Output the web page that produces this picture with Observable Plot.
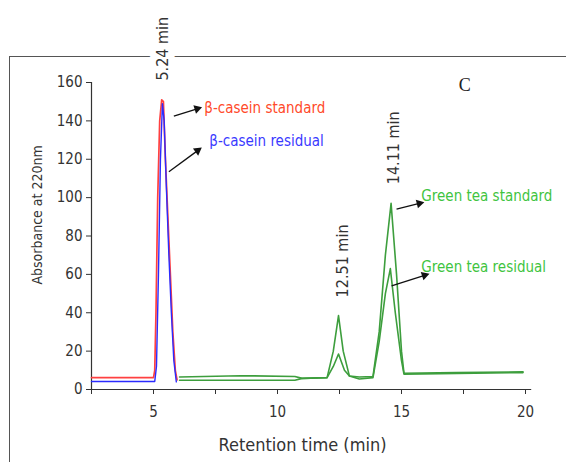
<!DOCTYPE html>
<html>
<head>
<meta charset="utf-8">
<script src="https://cdn.jsdelivr.net/npm/d3@7"></script>
<script src="https://cdn.jsdelivr.net/npm/@observablehq/plot@0.6"></script>
<style>
  html, body { margin: 0; padding: 0; background: #fff; overflow: hidden; }
  #wrap { position: relative; width: 566px; height: 462px; }
  #frame { position: absolute; left: 9px; top: 56px; width: 640px; height: 460px;
           border-left: 1.5px solid #555; border-top: 1.5px solid #555; }
  #chart { position: absolute; left: 0; top: 0; }
  #chart svg { background: transparent !important; }
</style>
</head>
<body>
<div id="wrap"><div id="frame"></div><div id="chart"></div></div>
<script>
// ---- data ----
const caseinStdTime = [2.5, 5.0, 5.05, 5.1, 5.17, 5.25, 5.33, 5.4, 5.48, 5.58, 5.68, 5.78, 5.88, 5.95];
const caseinStdAbs  = [6.2, 6.2, 10, 40, 100, 140, 151, 150, 120, 90, 60, 30, 10, 5];

const caseinResTime = [2.5, 5.05, 5.12, 5.2, 5.28, 5.36, 5.43, 5.52, 5.62, 5.72, 5.82, 5.92];
const caseinResAbs  = [4.2, 4.2, 12, 60, 120, 149, 140, 105, 70, 40, 15, 4];

const teaStdTime = [6.05, 8.5, 10.7, 11.0, 12.0, 12.25, 12.46, 12.65, 12.9, 13.3, 13.85, 14.1, 14.35, 14.58, 14.8, 15.0, 15.1, 17.2, 19.9];
const teaStdAbs  = [6.5, 7.2, 6.8, 5.8, 6.2, 20, 38.5, 20, 7, 6.5, 6.8, 30, 70, 97, 60, 20, 8.5, 8.8, 9.2];

const teaResTime = [6.05, 10.7, 11.0, 12.0, 12.25, 12.46, 12.7, 12.9, 13.3, 13.85, 14.1, 14.35, 14.55, 14.75, 15.0, 15.1, 19.9];
const teaResAbs  = [4.8, 4.8, 5.8, 6.2, 12, 18.5, 10, 7, 5.5, 6.2, 25, 50, 63, 40, 15, 8.0, 8.8];

const xTicks = [2.5, 5, 7.5, 10, 12.5, 15, 17.5, 20];
const xTickLabels = ["", "5", "", "10", "", "15", "", "20"];
const yTicks = [0, 20, 40, 60, 80, 100, 120, 140, 160];

const xTitle = "Retention time (min)";
const yTitle = "Absorbance at 220nm";
const panelLetter = "C";

// annotation labels (text, position in data units)
const seriesLabels = ["β-casein standard", "β-casein residual", "Green tea standard", "Green tea residual"];
const seriesLabelX = [7.05, 7.25, 15.8, 15.8];
const seriesLabelY = [146.5, 129.5, 100.5, 63.5];
const seriesLabelColors = ["#ff4a2a", "#3a3aff", "#3fc43f", "#3fc43f"];

const arrowX1 = [5.82, 5.62, 14.8, 14.6];
const arrowY1 = [142.5, 113.5, 94, 54];
const arrowX2 = [6.76, 6.78, 15.72, 15.93];
const arrowY2 = [146.3, 124.5, 97, 59.5];

const peakLabels = ["5.24 min", "12.51 min", "14.11 min"];
const peakLabelX = [5.36, 12.62, 14.68];
const peakLabelY = [161, 48, 107];

// ---- layout ----
const W = 566, H = 462, ML = 91, MR = 41, MT = 82, MB = 73;
const xDomain = [2.5, 20], yDomain = [0, 160];
const kx = (W - ML - MR) / (xDomain[1] - xDomain[0]);
const ky = (H - MT - MB) / (yDomain[1] - yDomain[0]);

// ---- build ----
const rows = (t, a, s) => t.map((x, i) => ({x, y: a[i], s}));
const lines = [
  ...rows(caseinStdTime, caseinStdAbs, "casein std"),
  ...rows(caseinResTime, caseinResAbs, "casein res"),
  ...rows(teaStdTime, teaStdAbs, "tea std"),
  ...rows(teaResTime, teaResAbs, "tea res")
];
const lineColors = {"casein std": "#ff4040", "casein res": "#2b2bff", "tea std": "#3d9e3d", "tea res": "#3d9e3d"};

const arrows = arrowX1.map((x1, i) => {
  const ang = Math.atan2(-(arrowY2[i] - arrowY1[i]) * ky, (arrowX2[i] - x1) * kx) * 180 / Math.PI;
  return {x1, y1: arrowY1[i], x2: arrowX2[i], y2: arrowY2[i], rot: 90 + ang};
});

const font = "'DejaVu Sans Condensed', 'DejaVu Sans', sans-serif";

const chart = Plot.plot({
  width: W,
  height: H,
  marginLeft: ML,
  marginRight: MR,
  marginTop: MT,
  marginBottom: MB,
  style: {fontFamily: font, fontSize: "15px", color: "#333", background: "transparent"},
  x: {domain: xDomain},
  y: {domain: yDomain},
  marks: [
    Plot.axisX({ticks: xTicks, tickFormat: (d, i) => xTickLabels[i], tickSize: 5, tickPadding: 12, label: null, fontSize: 15}),
    Plot.axisY({ticks: yTicks, tickSize: 5, tickPadding: 4, label: null, fontSize: 15}),
    Plot.ruleY([0], {x1: 2.5, x2: 20.25, stroke: "#333", strokeWidth: 1.2}),
    Plot.ruleX([2.5], {y1: 0, y2: 160, stroke: "#333", strokeWidth: 1.2}),
    Plot.line(lines.filter(d => d.s.startsWith("tea")), {x: "x", y: "y", z: "s", stroke: d => lineColors[d.s], strokeWidth: 1.6}),
    Plot.line(lines.filter(d => d.s === "casein std"), {x: "x", y: "y", stroke: lineColors["casein std"], strokeWidth: 1.7}),
    Plot.line(lines.filter(d => d.s === "casein res"), {x: "x", y: "y", stroke: lineColors["casein res"], strokeWidth: 1.4}),
    Plot.link(arrows, {x1: "x1", y1: "y1", x2: "x2", y2: "y2", stroke: "#111", strokeWidth: 1.3}),
    Plot.dot(arrows, {x: "x2", y: "y2", symbol: "triangle", r: 3.3, fill: "#111", rotate: "rot"}),
    Plot.text(seriesLabels, {x: (d, i) => seriesLabelX[i], y: (d, i) => seriesLabelY[i], text: d => d,
      fill: (d, i) => seriesLabelColors[i], textAnchor: "start", lineAnchor: "middle", fontSize: 15}),
    Plot.text(peakLabels, {x: (d, i) => peakLabelX[i], y: (d, i) => peakLabelY[i], text: d => d,
      rotate: -90, textAnchor: "start", lineAnchor: "middle", fill: "#333", fontSize: 16,
      stroke: "white", strokeWidth: 14}),
    Plot.text([panelLetter], {x: 17.55, y: 158.5, text: d => d, fontFamily: "'Liberation Serif', serif", fontSize: 18, fill: "#222"}),
    Plot.text([yTitle], {x: 2.5, y: 91, text: d => d, rotate: -90, dx: -54, fontSize: 14, fill: "#333"}),
    Plot.text([xTitle], {frameAnchor: "bottom", dx: -6, dy: 61, text: d => d, fontSize: 18, fill: "#333"})
  ]
});
document.getElementById("chart").appendChild(chart);
</script>
</body>
</html>
